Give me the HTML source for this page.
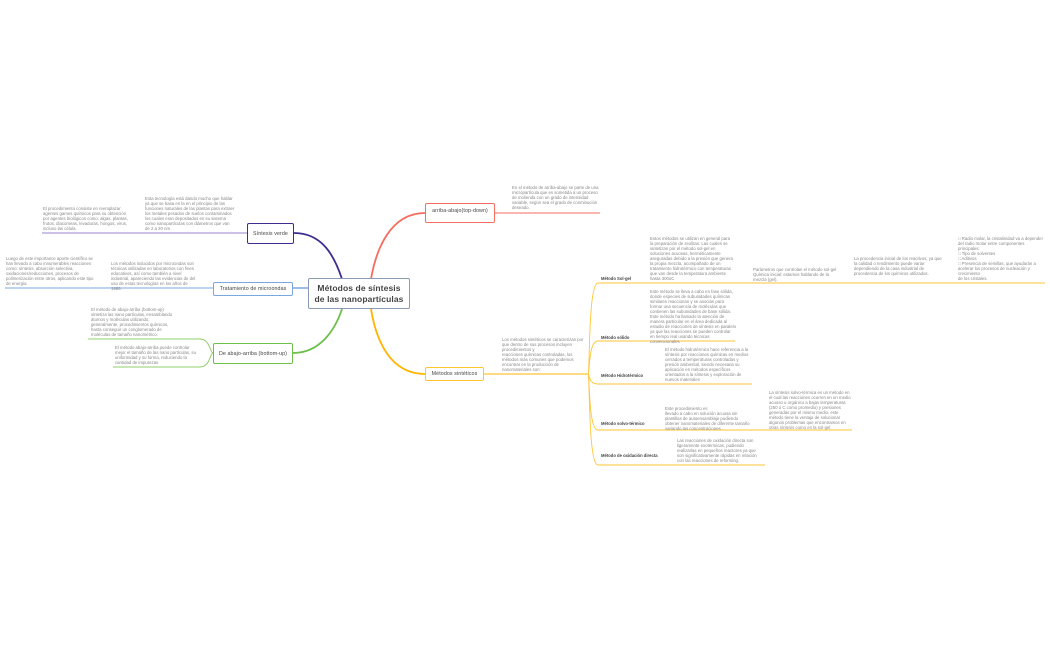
<!DOCTYPE html>
<html><head><meta charset="utf-8"><style>
body{margin:0;width:1050px;height:650px;background:#fff;position:relative;overflow:hidden;font-family:"Liberation Sans",sans-serif}
.t{position:absolute;font-size:4.3px;line-height:5px;color:#888;}
.b{position:absolute;background:#fff;border:1.2px solid;border-radius:2px;font-size:5.3px;color:#444;display:flex;align-items:center;justify-content:center;box-sizing:border-box;letter-spacing:0.1px}
.l{position:absolute;font-size:4.2px;color:#444;font-weight:bold}
svg{position:absolute;left:0;top:0}
</style></head><body>
<svg width="1050" height="650" fill="none">
<path d="M294,233 C322,233 334,255 342,279" stroke="#3b2e8f" stroke-width="1.8"/>
<path d="M293,288 L308,288" stroke="#7ba7e0" stroke-width="1.5"/>
<path d="M293,353 C320,353 335,330 342,309" stroke="#6cc04a" stroke-width="1.8"/>
<path d="M425,213 C390,213 376,250 371,279" stroke="#f46d5e" stroke-width="1.8"/>
<path d="M425,374 C390,374 376,340 371,309" stroke="#ffb400" stroke-width="1.8"/>
<path d="M42,233 H247" stroke="#9a85d0" stroke-width="1"/>
<path d="M5,288 H213" stroke="#7ba7e0" stroke-width="1"/>
<path d="M88,339 H200 C210,339 210,353 213,353 M113,367 H200 C210,367 210,353 213,353" stroke="#8fd06a" stroke-width="1"/>
<path d="M495,213 H600" stroke="#f46d5e" stroke-width="1"/>
<path d="M484,374 H588" stroke="#ffb400" stroke-width="1"/>
<g stroke="#ffc533" stroke-width="0.9">
<path d="M588,374 C590,374 588,283 598,283 H1045"/>
<path d="M588,374 C590,374 588,341 598,341 H735"/>
<path d="M588,374 C590,374 588,384 598,384 H752"/>
<path d="M588,374 C590,374 588,430 598,430 H852"/>
<path d="M588,374 C590,374 588,465 598,465 H765"/>
</g>
</svg>
<div class="b" style="left:308px;top:278px;width:102px;height:31px;border-color:#8a9bb5;font-size:8.5px;line-height:11px;text-align:center;font-weight:bold">Métodos de síntesis<br>de las nanopartículas</div>
<div class="b" style="left:247px;top:223px;width:47px;height:21px;border-color:#3b2e8f">Síntesis verde</div>
<div class="b" style="left:213px;top:282px;width:80px;height:14px;border-color:#7ba7e0">Tratamiento de microondas</div>
<div class="b" style="left:213px;top:343px;width:80px;height:21px;border-color:#6cc04a">De abajo-arriba (bottom-up)</div>
<div class="b" style="left:425px;top:203px;width:70px;height:20px;border-color:#f46d5e;align-items:flex-start;padding-top:4px">arriba-abajo(top-down)</div>
<div class="b" style="left:425px;top:367px;width:59px;height:14px;border-color:#ffc533">Métodos sintéticos</div>

<div class="t" style="left:43px;top:206px;width:88px">El procedimiento consiste en reemplazar agentes games químicos para su obtención por agentes biológicos como: algas, plantas, frutos, diacomeas, levaduras, hongos, virus, incluso las célula.</div>
<div class="t" style="left:145px;top:196px;width:90px">Esta tecnología está dando mucho que hablar ya que se basa en la en el principio de las funciones naturales de las plantas para extraer los metales pesados de suelos contaminados los cuales eran depositados en su sistema como nanopartículas con diámetros que van de 2 a 20 nm</div>
<div class="t" style="left:6px;top:256px;width:90px">Luego de este importance aporte científico se han llevado a cabo innumerables reacciones como: síntesis, absorción selectiva, oxidaciones/reducciones, procesos de polimerización entre otros, aplicando este tipo de energía</div>
<div class="t" style="left:111px;top:261px;width:88px">Los métodos inducidos por microondas son técnicas utilizadas en laboratorios con fines educativos, así como también a nivel industrial, apareciendo las evidencias de del uso de estas tecnologías en los años de 1986.</div>
<div class="t" style="left:91px;top:307px;width:84px">El método de abajo-arriba (bottom-up) sintetiza las nano partículas, ensamblando átomos y moléculas utilizando, generalmente, procedimientos químicos, hasta conseguir un conglomerado de moléculas de tamaño nanométrico.</div>
<div class="t" style="left:115px;top:345px;width:84px">El método abajo-arriba puede controlar mejor el tamaño de las nano partículas, su uniformidad y su forma, reduciendo la cantidad de impurezas</div>
<div class="t" style="left:512px;top:185px;width:88px">En el método de arriba-abajo se parte de una micropartícula que es sometida a un proceso de molienda con un grado de intensidad variable, según sea el grado de conminución deseado.</div>
<div class="t" style="left:502px;top:337px;width:82px">Los métodos sintéticos se caracterizan por que dentro de sus procesos incluyen procedimientos y<br>reacciones químicas controladas, los métodos más comunes que podemos encontrar en la producción de nanomateriales son:</div>

<div class="l" style="left:601px;top:276px">Método Sol-gel</div>
<div class="l" style="left:601px;top:335px">Método sólido</div>
<div class="l" style="left:601px;top:373px">Método Hidrotérmico</div>
<div class="l" style="left:601px;top:421px">Método solvo-térmico</div>
<div class="l" style="left:601px;top:453px">Método de oxidación directa</div>

<div class="t" style="left:650px;top:236px;width:84px">Estos métodos se utilizan en general para la preparación de zeolitas. Las cuales se sintetizan por el método sol-gel en soluciones acuosas, herméticamente aseguradas debido a la presión que genera la propia mezcla, acompañado de un tratamiento hidrotérmico con temperaturas que van desde la temperatura ambiente hasta 300oC</div>
<div class="t" style="left:753px;top:267px;width:84px">Parámetros que controlan el método sol-gel Química inicial: estamos hablando de la mezcla (gel).</div>
<div class="t" style="left:854px;top:256px;width:88px">La procedencia inicial de los reactivos, ya que la calidad o rendimiento puede variar dependiendo de la casa industrial de procedencia de los químicos utilizados.</div>
<div class="t" style="left:958px;top:236px;width:88px">□ Radio molar, la cristalinidad va a depender del radio molar entre componentes principales.<br>□ Tipo de solventes<br>□ Aditivos<br>□ Presencia de semillas, que ayudarán a acelerar los procesos de nucleación y crecimiento<br>de los cristales.</div>
<div class="t" style="left:650px;top:289px;width:86px">Este método se lleva a cabo en fase sólida, donde especies de subunidades químicas similares reaccionan y se asocian para formar una secuencia de moléculas que contienen las subunidades de base sólida. Este método ha llamado la atención de manera particular en el área dedicada al estudio de reacciones de síntesis en paralelo ya que las reacciones se pueden controlar en tiempo real usando técnicas convencionales</div>
<div class="t" style="left:665px;top:347px;width:86px">El método hidrotérmico hace referencia a la síntesis por reacciones químicas en medios cerrados a temperaturas controladas y presión ambiental, siendo necesaria su aplicación en métodos específicos orientados a la síntesis y exploración de nuevos materiales</div>
<div class="t" style="left:665px;top:406px;width:86px">Este procedimiento es<br>llevado a cabo en solución acuosa sin plantillas de autoensamblaje pudiendo obtener nanomateriales de diferente tamaño variando las concentraciones.</div>
<div class="t" style="left:769px;top:390px;width:84px">La síntesis solvo-térmica es un método en el cual las reacciones ocurren en un medio acuoso u orgánico a bajas temperaturas (250 o C como promedio) y presiones generadas por el mismo medio, este método tiene la ventaja de solucionar algunos problemas que encontramos en otras síntesis como en la sol-gel.</div>
<div class="t" style="left:677px;top:438px;width:86px">Las reacciones de oxidación directa son ligeramente exotérmicas, pudiendo realizarlas en pequeños reactores ya que son significativamente rápidas en relación con las reacciones de reforming.</div>
</body></html>
